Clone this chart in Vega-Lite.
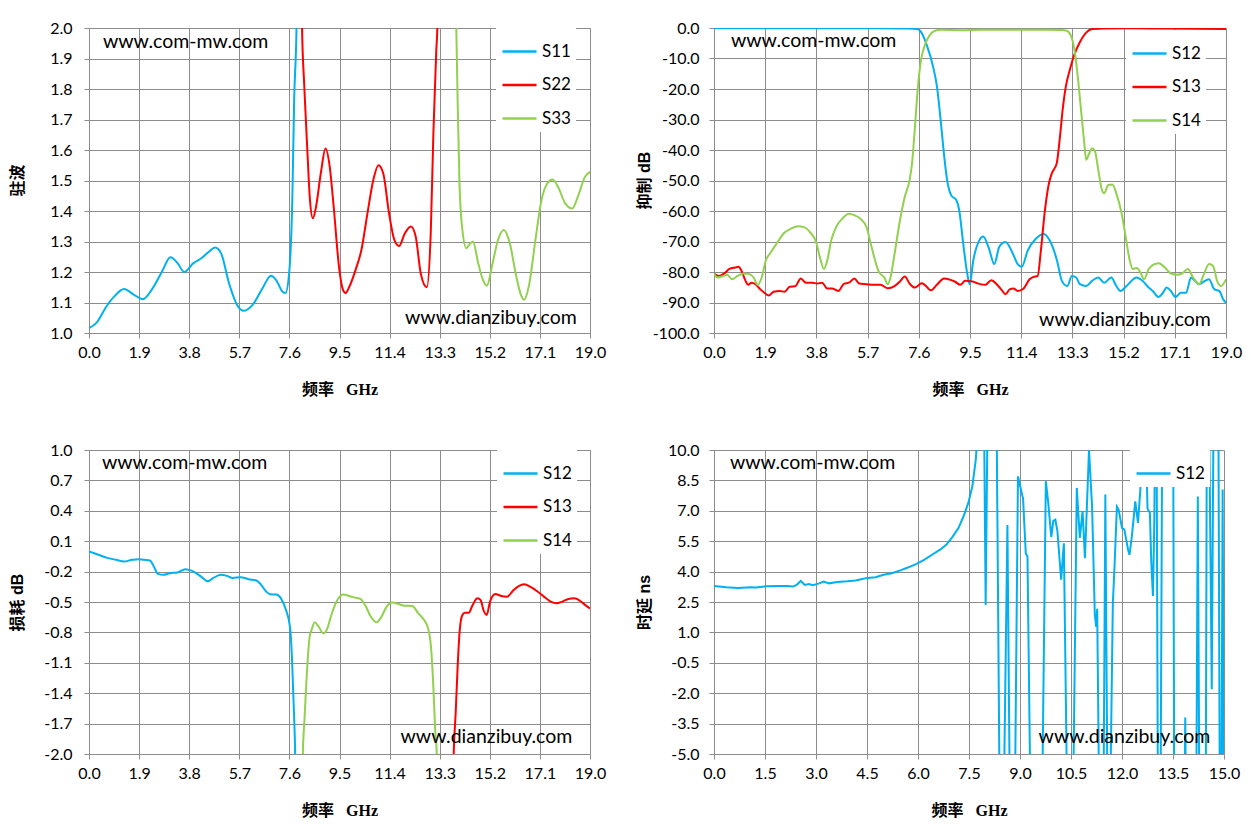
{
  "$schema": "https://vega.github.io/schema/vega-lite/v6.json",
  "background": "white",
  "padding": {"left": 9, "top": 20, "right": 10, "bottom": 10},
  "columns": 2,
  "bounds": "flush",
  "spacing": {"row": 117, "column": 124},
  "resolve": {"scale": {"x": "independent", "y": "independent", "color": "independent"}, "legend": {"color": "independent"}},
  "config": {
    "view": {"stroke": null},
    "axis": {
      "gridColor": "#8c8c8c", "gridOpacity": 1, "gridWidth": 1,
      "domainColor": "#8c8c8c", "tickColor": "#8c8c8c", "tickSize": 5, "tickCount": 20,
      "labelFont": "Lato", "labelFontSize": 16, "labelColor": "#000",
      "labelFlush": false, "labelOverlap": false,
      "titleFontSize": 16, "titleFontWeight": "bold", "titleColor": "#000"
    },
    "axisX": {"labelPadding": 6, "titlePadding": 21, "titleFont": "Liberation Serif, Noto Sans CJK SC"},
    "axisY": {"labelPadding": 12, "titleAngle": -90, "titleBaseline": "middle", "titleY": 152, "titleFont": "Liberation Sans, Noto Sans CJK SC"},
    "legend": {
      "orient": "none", "legendY": 0, "title": null, "fillColor": "white", "padding": 5,
      "symbolType": "stroke", "symbolSize": 1156, "symbolStrokeWidth": 2.5,
      "labelFont": "Lato", "labelFontSize": 17, "labelColor": "#000", "labelOffset": 4, "rowPadding": 6.5
    },
    "text": {"font": "Lato", "fontSize": 19.5, "color": "#000"}
  },
  "datasets": {
    "vswr": [
      {"s":"S11","f":0,"v":1.016},{"s":"S11","f":0.28,"v":1.033},{"s":"S11","f":0.66,"v":1.087},{"s":"S11","f":0.96,"v":1.12},{"s":"S11","f":1.33,"v":1.144},{"s":"S11","f":1.71,"v":1.125},{"s":"S11","f":2.04,"v":1.111},{"s":"S11","f":2.38,"v":1.142},{"s":"S11","f":2.76,"v":1.2},{"s":"S11","f":3.09,"v":1.248},{"s":"S11","f":3.36,"v":1.229},{"s":"S11","f":3.61,"v":1.2},{"s":"S11","f":3.96,"v":1.229},{"s":"S11","f":4.26,"v":1.245},{"s":"S11","f":4.56,"v":1.267},{"s":"S11","f":4.78,"v":1.28},{"s":"S11","f":5.01,"v":1.261},{"s":"S11","f":5.31,"v":1.163},{"s":"S11","f":5.61,"v":1.093},{"s":"S11","f":5.88,"v":1.073},{"s":"S11","f":6.21,"v":1.093},{"s":"S11","f":6.58,"v":1.147},{"s":"S11","f":6.9,"v":1.188},{"s":"S11","f":7.11,"v":1.172},{"s":"S11","f":7.33,"v":1.136},{"s":"S11","f":7.45,"v":1.131},{"s":"S11","f":7.59,"v":1.196},{"s":"S11","f":7.71,"v":1.436},{"s":"S11","f":7.78,"v":1.763},{"s":"S11","f":7.87,"v":2.0},{"s":"S11","f":7.92,"v":2.3},
      {"s":"S22","f":8.03,"v":2.3},{"s":"S22","f":8.08,"v":2.0},{"s":"S22","f":8.16,"v":1.817},{"s":"S22","f":8.28,"v":1.6},{"s":"S22","f":8.38,"v":1.436},{"s":"S22","f":8.49,"v":1.376},{"s":"S22","f":8.61,"v":1.414},{"s":"S22","f":8.79,"v":1.523},{"s":"S22","f":8.97,"v":1.605},{"s":"S22","f":9.13,"v":1.545},{"s":"S22","f":9.28,"v":1.414},{"s":"S22","f":9.48,"v":1.218},{"s":"S22","f":9.63,"v":1.142},{"s":"S22","f":9.73,"v":1.131},{"s":"S22","f":9.88,"v":1.153},{"s":"S22","f":10.11,"v":1.207},{"s":"S22","f":10.33,"v":1.272},{"s":"S22","f":10.56,"v":1.392},{"s":"S22","f":10.78,"v":1.501},{"s":"S22","f":10.98,"v":1.55},{"s":"S22","f":11.16,"v":1.523},{"s":"S22","f":11.38,"v":1.392},{"s":"S22","f":11.58,"v":1.305},{"s":"S22","f":11.76,"v":1.285},{"s":"S22","f":11.98,"v":1.327},{"s":"S22","f":12.21,"v":1.349},{"s":"S22","f":12.39,"v":1.316},{"s":"S22","f":12.58,"v":1.196},{"s":"S22","f":12.81,"v":1.15},{"s":"S22","f":12.96,"v":1.327},{"s":"S22","f":13.06,"v":1.654},{"s":"S22","f":13.17,"v":1.926},{"s":"S22","f":13.21,"v":2.0},{"s":"S22","f":13.25,"v":2.3},
      {"s":"S33","f":13.88,"v":2.3},{"s":"S33","f":13.93,"v":2.0},{"s":"S33","f":13.98,"v":1.763},{"s":"S33","f":14.05,"v":1.49},{"s":"S33","f":14.16,"v":1.338},{"s":"S33","f":14.31,"v":1.278},{"s":"S33","f":14.46,"v":1.294},{"s":"S33","f":14.56,"v":1.3},{"s":"S33","f":14.76,"v":1.229},{"s":"S33","f":14.94,"v":1.174},{"s":"S33","f":15.09,"v":1.155},{"s":"S33","f":15.28,"v":1.218},{"s":"S33","f":15.51,"v":1.305},{"s":"S33","f":15.73,"v":1.338},{"s":"S33","f":15.96,"v":1.294},{"s":"S33","f":16.18,"v":1.196},{"s":"S33","f":16.38,"v":1.125},{"s":"S33","f":16.5,"v":1.109},{"s":"S33","f":16.68,"v":1.153},{"s":"S33","f":16.93,"v":1.305},{"s":"S33","f":17.16,"v":1.436},{"s":"S33","f":17.38,"v":1.49},{"s":"S33","f":17.58,"v":1.503},{"s":"S33","f":17.79,"v":1.479},{"s":"S33","f":18.06,"v":1.425},{"s":"S33","f":18.33,"v":1.408},{"s":"S33","f":18.54,"v":1.447},{"s":"S33","f":18.81,"v":1.512},{"s":"S33","f":19,"v":1.528}
    ],
    "reject": [
      {"s":"S12","f":0,"v":-0.05},{"s":"S12","f":2,"v":-0.05},{"s":"S12","f":4,"v":-0.08},{"s":"S12","f":6,"v":-0.1},{"s":"S12","f":7.2,"v":-0.15},{"s":"S12","f":7.53,"v":-0.3},{"s":"S12","f":7.67,"v":-1.1},{"s":"S12","f":7.9,"v":-5.7},{"s":"S12","f":8.12,"v":-12.3},{"s":"S12","f":8.27,"v":-19},{"s":"S12","f":8.42,"v":-31},{"s":"S12","f":8.53,"v":-41},{"s":"S12","f":8.65,"v":-49.8},{"s":"S12","f":8.8,"v":-54.8},{"s":"S12","f":8.99,"v":-56.4},{"s":"S12","f":9.1,"v":-59.8},{"s":"S12","f":9.25,"v":-70.8},{"s":"S12","f":9.4,"v":-80.7},{"s":"S12","f":9.49,"v":-84},{"s":"S12","f":9.62,"v":-76.3},{"s":"S12","f":9.84,"v":-69.7},{"s":"S12","f":9.99,"v":-68.4},{"s":"S12","f":10.19,"v":-71.9},{"s":"S12","f":10.4,"v":-77.4},{"s":"S12","f":10.59,"v":-71.7},{"s":"S12","f":10.82,"v":-70.2},{"s":"S12","f":11.04,"v":-73},{"s":"S12","f":11.27,"v":-77.4},{"s":"S12","f":11.42,"v":-78.3},{"s":"S12","f":11.64,"v":-73},{"s":"S12","f":11.94,"v":-69.1},{"s":"S12","f":12.24,"v":-67.5},{"s":"S12","f":12.46,"v":-69.7},{"s":"S12","f":12.73,"v":-76.3},{"s":"S12","f":12.91,"v":-82.9},{"s":"S12","f":13.11,"v":-84.6},{"s":"S12","f":13.28,"v":-81.3},{"s":"S12","f":13.44,"v":-81.8},{"s":"S12","f":13.58,"v":-84},{"s":"S12","f":13.81,"v":-84.6},{"s":"S12","f":14.03,"v":-82.9},{"s":"S12","f":14.26,"v":-81.8},{"s":"S12","f":14.48,"v":-83.5},{"s":"S12","f":14.74,"v":-81.8},{"s":"S12","f":14.93,"v":-84.6},{"s":"S12","f":15.08,"v":-86.2},{"s":"S12","f":15.31,"v":-84.6},{"s":"S12","f":15.68,"v":-81.8},{"s":"S12","f":15.9,"v":-82.9},{"s":"S12","f":16.13,"v":-85.1},{"s":"S12","f":16.28,"v":-86.2},{"s":"S12","f":16.5,"v":-88.2},{"s":"S12","f":16.66,"v":-86.8},{"s":"S12","f":16.8,"v":-85.1},{"s":"S12","f":16.95,"v":-86.2},{"s":"S12","f":17.13,"v":-88.2},{"s":"S12","f":17.32,"v":-86.8},{"s":"S12","f":17.52,"v":-86.8},{"s":"S12","f":17.7,"v":-81.8},{"s":"S12","f":17.85,"v":-82.9},{"s":"S12","f":18,"v":-84},{"s":"S12","f":18.22,"v":-82.9},{"s":"S12","f":18.37,"v":-82.4},{"s":"S12","f":18.57,"v":-85.7},{"s":"S12","f":18.75,"v":-86.2},{"s":"S12","f":18.9,"v":-89},{"s":"S12","f":19,"v":-90.1},
      {"s":"S13","f":0,"v":-80.5},{"s":"S13","f":0.19,"v":-81.3},{"s":"S13","f":0.42,"v":-80.2},{"s":"S13","f":0.57,"v":-79},{"s":"S13","f":0.79,"v":-78.5},{"s":"S13","f":0.91,"v":-78.3},{"s":"S13","f":1.02,"v":-79.6},{"s":"S13","f":1.17,"v":-82.9},{"s":"S13","f":1.27,"v":-84.2},{"s":"S13","f":1.39,"v":-83.5},{"s":"S13","f":1.54,"v":-84},{"s":"S13","f":1.72,"v":-85.7},{"s":"S13","f":1.87,"v":-86.8},{"s":"S13","f":2.03,"v":-87.7},{"s":"S13","f":2.21,"v":-86.5},{"s":"S13","f":2.44,"v":-86.2},{"s":"S13","f":2.62,"v":-86.5},{"s":"S13","f":2.81,"v":-84.8},{"s":"S13","f":3.01,"v":-84.7},{"s":"S13","f":3.22,"v":-82.1},{"s":"S13","f":3.41,"v":-83.5},{"s":"S13","f":3.64,"v":-83.5},{"s":"S13","f":3.83,"v":-83.8},{"s":"S13","f":4.01,"v":-83.5},{"s":"S13","f":4.2,"v":-85.4},{"s":"S13","f":4.38,"v":-85.4},{"s":"S13","f":4.61,"v":-86.2},{"s":"S13","f":4.83,"v":-83.8},{"s":"S13","f":5.01,"v":-83.5},{"s":"S13","f":5.21,"v":-82.1},{"s":"S13","f":5.39,"v":-83.8},{"s":"S13","f":5.66,"v":-84},{"s":"S13","f":5.91,"v":-84.2},{"s":"S13","f":6.18,"v":-84.2},{"s":"S13","f":6.45,"v":-85.3},{"s":"S13","f":6.7,"v":-84.6},{"s":"S13","f":6.9,"v":-83.1},{"s":"S13","f":7.08,"v":-81.5},{"s":"S13","f":7.26,"v":-83.8},{"s":"S13","f":7.45,"v":-85.1},{"s":"S13","f":7.71,"v":-83.7},{"s":"S13","f":7.82,"v":-84.2},{"s":"S13","f":8.05,"v":-86},{"s":"S13","f":8.27,"v":-84.2},{"s":"S13","f":8.54,"v":-82.1},{"s":"S13","f":8.75,"v":-82.5},{"s":"S13","f":8.95,"v":-83.2},{"s":"S13","f":9.14,"v":-84.2},{"s":"S13","f":9.32,"v":-82.9},{"s":"S13","f":9.59,"v":-83.1},{"s":"S13","f":9.81,"v":-83.8},{"s":"S13","f":10.07,"v":-84.2},{"s":"S13","f":10.29,"v":-82.7},{"s":"S13","f":10.49,"v":-84},{"s":"S13","f":10.7,"v":-86.2},{"s":"S13","f":10.82,"v":-87.3},{"s":"S13","f":10.97,"v":-85.7},{"s":"S13","f":11.12,"v":-85.4},{"s":"S13","f":11.27,"v":-86.2},{"s":"S13","f":11.49,"v":-85.4},{"s":"S13","f":11.71,"v":-82.4},{"s":"S13","f":11.86,"v":-81.6},{"s":"S13","f":12.01,"v":-81.3},{"s":"S13","f":12.13,"v":-73},{"s":"S13","f":12.28,"v":-59.8},{"s":"S13","f":12.43,"v":-50.9},{"s":"S13","f":12.54,"v":-47.6},{"s":"S13","f":12.72,"v":-44.3},{"s":"S13","f":12.84,"v":-35.5},{"s":"S13","f":12.94,"v":-26.7},{"s":"S13","f":13.06,"v":-19},{"s":"S13","f":13.21,"v":-13.5},{"s":"S13","f":13.36,"v":-9},{"s":"S13","f":13.58,"v":-4.6},{"s":"S13","f":13.81,"v":-1.5},{"s":"S13","f":14.03,"v":-0.3},{"s":"S13","f":14.41,"v":-0.2},{"s":"S13","f":15.31,"v":-0.1},{"s":"S13","f":16.65,"v":-0.2},{"s":"S13","f":19,"v":-0.3},
      {"s":"S14","f":0,"v":-80.5},{"s":"S14","f":0.12,"v":-81.8},{"s":"S14","f":0.31,"v":-81.4},{"s":"S14","f":0.49,"v":-80.9},{"s":"S14","f":0.67,"v":-82.4},{"s":"S14","f":0.87,"v":-81.3},{"s":"S14","f":1.09,"v":-80.5},{"s":"S14","f":1.32,"v":-80.7},{"s":"S14","f":1.47,"v":-81.8},{"s":"S14","f":1.62,"v":-84.2},{"s":"S14","f":1.77,"v":-81.8},{"s":"S14","f":1.92,"v":-76.3},{"s":"S14","f":2.11,"v":-73.5},{"s":"S14","f":2.36,"v":-70.2},{"s":"S14","f":2.59,"v":-67.3},{"s":"S14","f":2.86,"v":-65.8},{"s":"S14","f":3.11,"v":-65},{"s":"S14","f":3.34,"v":-65.3},{"s":"S14","f":3.56,"v":-66.9},{"s":"S14","f":3.79,"v":-70.2},{"s":"S14","f":3.93,"v":-75.2},{"s":"S14","f":4.08,"v":-79},{"s":"S14","f":4.2,"v":-76.3},{"s":"S14","f":4.35,"v":-69.7},{"s":"S14","f":4.53,"v":-65.3},{"s":"S14","f":4.76,"v":-62.5},{"s":"S14","f":5.01,"v":-60.9},{"s":"S14","f":5.21,"v":-61.4},{"s":"S14","f":5.43,"v":-62.5},{"s":"S14","f":5.66,"v":-65.3},{"s":"S14","f":5.85,"v":-71.9},{"s":"S14","f":6.1,"v":-79.6},{"s":"S14","f":6.33,"v":-82},{"s":"S14","f":6.45,"v":-84},{"s":"S14","f":6.55,"v":-81.8},{"s":"S14","f":6.7,"v":-74.1},{"s":"S14","f":6.9,"v":-63.1},{"s":"S14","f":7.08,"v":-55.3},{"s":"S14","f":7.26,"v":-49.8},{"s":"S14","f":7.35,"v":-44.3},{"s":"S14","f":7.45,"v":-33.3},{"s":"S14","f":7.56,"v":-20.1},{"s":"S14","f":7.67,"v":-11.2},{"s":"S14","f":7.82,"v":-5.7},{"s":"S14","f":8,"v":-2.4},{"s":"S14","f":8.2,"v":-0.9},{"s":"S14","f":8.42,"v":-0.6},{"s":"S14","f":9.17,"v":-0.7},{"s":"S14","f":9.92,"v":-0.55},{"s":"S14","f":10.67,"v":-0.55},{"s":"S14","f":11.42,"v":-0.55},{"s":"S14","f":12.16,"v":-0.55},{"s":"S14","f":12.91,"v":-0.65},{"s":"S14","f":13.09,"v":-0.9},{"s":"S14","f":13.24,"v":-2.4},{"s":"S14","f":13.39,"v":-7.9},{"s":"S14","f":13.51,"v":-16.8},{"s":"S14","f":13.63,"v":-27.8},{"s":"S14","f":13.74,"v":-37.7},{"s":"S14","f":13.81,"v":-43.2},{"s":"S14","f":13.93,"v":-41},{"s":"S14","f":14.03,"v":-39.4},{"s":"S14","f":14.14,"v":-40.5},{"s":"S14","f":14.26,"v":-46.5},{"s":"S14","f":14.38,"v":-52.6},{"s":"S14","f":14.48,"v":-54.2},{"s":"S14","f":14.63,"v":-51.5},{"s":"S14","f":14.78,"v":-51.3},{"s":"S14","f":14.93,"v":-54.2},{"s":"S14","f":15.13,"v":-60.9},{"s":"S14","f":15.28,"v":-68.6},{"s":"S14","f":15.43,"v":-76.3},{"s":"S14","f":15.54,"v":-79},{"s":"S14","f":15.68,"v":-78.7},{"s":"S14","f":15.83,"v":-80.2},{"s":"S14","f":15.96,"v":-82.4},{"s":"S14","f":16.13,"v":-79},{"s":"S14","f":16.36,"v":-77.4},{"s":"S14","f":16.51,"v":-77.1},{"s":"S14","f":16.73,"v":-78.5},{"s":"S14","f":16.96,"v":-80.5},{"s":"S14","f":17.18,"v":-80.9},{"s":"S14","f":17.37,"v":-80.5},{"s":"S14","f":17.58,"v":-79},{"s":"S14","f":17.78,"v":-81.8},{"s":"S14","f":18,"v":-84},{"s":"S14","f":18.18,"v":-80.7},{"s":"S14","f":18.37,"v":-77.4},{"s":"S14","f":18.52,"v":-78},{"s":"S14","f":18.67,"v":-82.9},{"s":"S14","f":18.82,"v":-84.6},{"s":"S14","f":19,"v":-82.4}
    ],
    "loss": [
      {"s":"S12","f":0,"v":0.0},{"s":"S12","f":0.36,"v":-0.034},{"s":"S12","f":0.73,"v":-0.067},{"s":"S12","f":1.03,"v":-0.084},{"s":"S12","f":1.33,"v":-0.1},{"s":"S12","f":1.63,"v":-0.084},{"s":"S12","f":1.86,"v":-0.077},{"s":"S12","f":2.08,"v":-0.084},{"s":"S12","f":2.31,"v":-0.09},{"s":"S12","f":2.46,"v":-0.15},{"s":"S12","f":2.61,"v":-0.222},{"s":"S12","f":2.83,"v":-0.232},{"s":"S12","f":3.05,"v":-0.216},{"s":"S12","f":3.35,"v":-0.209},{"s":"S12","f":3.65,"v":-0.176},{"s":"S12","f":3.8,"v":-0.183},{"s":"S12","f":4.03,"v":-0.209},{"s":"S12","f":4.25,"v":-0.249},{"s":"S12","f":4.51,"v":-0.295},{"s":"S12","f":4.7,"v":-0.265},{"s":"S12","f":5,"v":-0.232},{"s":"S12","f":5.23,"v":-0.242},{"s":"S12","f":5.45,"v":-0.262},{"s":"S12","f":5.75,"v":-0.255},{"s":"S12","f":6.05,"v":-0.275},{"s":"S12","f":6.35,"v":-0.288},{"s":"S12","f":6.53,"v":-0.331},{"s":"S12","f":6.72,"v":-0.397},{"s":"S12","f":6.87,"v":-0.424},{"s":"S12","f":7.1,"v":-0.427},{"s":"S12","f":7.28,"v":-0.464},{"s":"S12","f":7.47,"v":-0.579},{"s":"S12","f":7.62,"v":-0.744},{"s":"S12","f":7.7,"v":-1.07},{"s":"S12","f":7.76,"v":-1.5},{"s":"S12","f":7.82,"v":-2.0},{"s":"S12","f":7.84,"v":-2.3},
      {"s":"S14","f":8.09,"v":-2.3},{"s":"S14","f":8.11,"v":-2.0},{"s":"S14","f":8.17,"v":-1.67},{"s":"S14","f":8.26,"v":-1.21},{"s":"S14","f":8.37,"v":-0.84},{"s":"S14","f":8.44,"v":-0.777},{"s":"S14","f":8.56,"v":-0.7},{"s":"S14","f":8.71,"v":-0.744},{"s":"S14","f":8.89,"v":-0.81},{"s":"S14","f":9.04,"v":-0.76},{"s":"S14","f":9.19,"v":-0.628},{"s":"S14","f":9.42,"v":-0.48},{"s":"S14","f":9.64,"v":-0.427},{"s":"S14","f":9.87,"v":-0.44},{"s":"S14","f":10.09,"v":-0.457},{"s":"S14","f":10.32,"v":-0.473},{"s":"S14","f":10.47,"v":-0.53},{"s":"S14","f":10.69,"v":-0.645},{"s":"S14","f":10.91,"v":-0.7},{"s":"S14","f":11.06,"v":-0.66},{"s":"S14","f":11.29,"v":-0.546},{"s":"S14","f":11.51,"v":-0.506},{"s":"S14","f":11.74,"v":-0.52},{"s":"S14","f":11.96,"v":-0.536},{"s":"S14","f":12.26,"v":-0.54},{"s":"S14","f":12.49,"v":-0.612},{"s":"S14","f":12.71,"v":-0.678},{"s":"S14","f":12.86,"v":-0.761},{"s":"S14","f":12.97,"v":-0.943},{"s":"S14","f":13.06,"v":-1.34},{"s":"S14","f":13.13,"v":-1.77},{"s":"S14","f":13.19,"v":-2.0},{"s":"S14","f":13.22,"v":-2.3},
      {"s":"S13","f":13.8,"v":-2.3},{"s":"S13","f":13.83,"v":-2.0},{"s":"S13","f":13.91,"v":-1.57},{"s":"S13","f":13.98,"v":-1.14},{"s":"S13","f":14.06,"v":-0.777},{"s":"S13","f":14.16,"v":-0.628},{"s":"S13","f":14.25,"v":-0.606},{"s":"S13","f":14.4,"v":-0.606},{"s":"S13","f":14.55,"v":-0.53},{"s":"S13","f":14.73,"v":-0.464},{"s":"S13","f":14.85,"v":-0.48},{"s":"S13","f":14.96,"v":-0.579},{"s":"S13","f":15.08,"v":-0.628},{"s":"S13","f":15.21,"v":-0.496},{"s":"S13","f":15.41,"v":-0.421},{"s":"S13","f":15.63,"v":-0.44},{"s":"S13","f":15.86,"v":-0.447},{"s":"S13","f":16.08,"v":-0.388},{"s":"S13","f":16.31,"v":-0.341},{"s":"S13","f":16.5,"v":-0.325},{"s":"S13","f":16.76,"v":-0.354},{"s":"S13","f":17.01,"v":-0.397},{"s":"S13","f":17.25,"v":-0.447},{"s":"S13","f":17.51,"v":-0.496},{"s":"S13","f":17.73,"v":-0.513},{"s":"S13","f":17.95,"v":-0.496},{"s":"S13","f":18.18,"v":-0.47},{"s":"S13","f":18.4,"v":-0.464},{"s":"S13","f":18.63,"v":-0.49},{"s":"S13","f":18.85,"v":-0.536},{"s":"S13","f":19,"v":-0.563}
    ],
    "delay": [
      {"s":"S12","f":0,"v":3.29},{"s":"S12","f":0.36,"v":3.23},{"s":"S12","f":0.71,"v":3.19},{"s":"S12","f":1.07,"v":3.23},{"s":"S12","f":1.25,"v":3.21},{"s":"S12","f":1.54,"v":3.28},{"s":"S12","f":1.9,"v":3.29},{"s":"S12","f":2.14,"v":3.29},{"s":"S12","f":2.32,"v":3.26},{"s":"S12","f":2.43,"v":3.34},{"s":"S12","f":2.55,"v":3.54},{"s":"S12","f":2.67,"v":3.34},{"s":"S12","f":2.79,"v":3.39},{"s":"S12","f":2.91,"v":3.33},{"s":"S12","f":3.09,"v":3.42},{"s":"S12","f":3.23,"v":3.51},{"s":"S12","f":3.38,"v":3.42},{"s":"S12","f":3.62,"v":3.49},{"s":"S12","f":3.92,"v":3.52},{"s":"S12","f":4.16,"v":3.56},{"s":"S12","f":4.33,"v":3.62},{"s":"S12","f":4.51,"v":3.69},{"s":"S12","f":4.75,"v":3.72},{"s":"S12","f":4.99,"v":3.84},{"s":"S12","f":5.23,"v":3.92},{"s":"S12","f":5.46,"v":4.05},{"s":"S12","f":5.7,"v":4.2},{"s":"S12","f":5.94,"v":4.37},{"s":"S12","f":6.18,"v":4.58},{"s":"S12","f":6.41,"v":4.83},{"s":"S12","f":6.65,"v":5.08},{"s":"S12","f":6.83,"v":5.32},{"s":"S12","f":7.01,"v":5.7},{"s":"S12","f":7.19,"v":6.15},{"s":"S12","f":7.34,"v":6.73},{"s":"S12","f":7.48,"v":7.39},{"s":"S12","f":7.6,"v":8.22},{"s":"S12","f":7.7,"v":9.54},{"s":"S12","f":7.76,"v":11},{"s":"S12","f":7.82,"v":14},
      {"s":"S12","f":7.93,"v":14},{"s":"S12","f":7.99,"v":2.35},{"s":"S12","f":8.06,"v":14},{"s":"S12","f":8.3,"v":14},{"s":"S12","f":8.41,"v":-9},{"s":"S12","f":8.51,"v":-9},{"s":"S12","f":8.63,"v":6.3},{"s":"S12","f":8.71,"v":-9},{"s":"S12","f":8.84,"v":-9},{"s":"S12","f":8.94,"v":8.7},{"s":"S12","f":9.02,"v":8.1},{"s":"S12","f":9.09,"v":7.6},{"s":"S12","f":9.17,"v":4.9},{"s":"S12","f":9.22,"v":4.75},{"s":"S12","f":9.32,"v":-9},{"s":"S12","f":9.64,"v":-9},{"s":"S12","f":9.76,"v":8.46},{"s":"S12","f":9.83,"v":7.4},{"s":"S12","f":9.92,"v":5.7},{"s":"S12","f":9.98,"v":6.5},{"s":"S12","f":10.04,"v":6.56},{"s":"S12","f":10.1,"v":6.0},{"s":"S12","f":10.21,"v":3.6},{"s":"S12","f":10.29,"v":5.4},{"s":"S12","f":10.4,"v":-9},{"s":"S12","f":10.55,"v":-9},{"s":"S12","f":10.67,"v":8.13},{"s":"S12","f":10.76,"v":5.66},{"s":"S12","f":10.84,"v":6.98},{"s":"S12","f":10.91,"v":4.66},{"s":"S12","f":11.03,"v":10.0},{"s":"S12","f":11.12,"v":7.2},{"s":"S12","f":11.2,"v":1.9},{"s":"S12","f":11.24,"v":1.27},{"s":"S12","f":11.27,"v":2.17},{"s":"S12","f":11.34,"v":-9},{"s":"S12","f":11.45,"v":-9},{"s":"S12","f":11.51,"v":7.8},{"s":"S12","f":11.58,"v":-9},{"s":"S12","f":11.64,"v":-9},{"s":"S12","f":11.73,"v":2.4},{"s":"S12","f":11.78,"v":4.25},{"s":"S12","f":11.85,"v":7.2},{"s":"S12","f":11.9,"v":7.06},{"s":"S12","f":12.0,"v":6.15},{"s":"S12","f":12.07,"v":6.07},{"s":"S12","f":12.18,"v":5.07},{"s":"S12","f":12.22,"v":4.83},{"s":"S12","f":12.29,"v":5.74},{"s":"S12","f":12.39,"v":7.47},{"s":"S12","f":12.47,"v":6.4},{"s":"S12","f":12.54,"v":8.05},{"s":"S12","f":12.58,"v":14},{"s":"S12","f":12.66,"v":14},{"s":"S12","f":12.75,"v":7.1},{"s":"S12","f":12.82,"v":6.9},{"s":"S12","f":12.86,"v":4.5},{"s":"S12","f":12.91,"v":2.8},{"s":"S12","f":12.95,"v":6.5},{"s":"S12","f":12.99,"v":14},{"s":"S12","f":13.01,"v":14},{"s":"S12","f":13.06,"v":-9},{"s":"S12","f":13.13,"v":-9},{"s":"S12","f":13.19,"v":14},{"s":"S12","f":13.5,"v":14},{"s":"S12","f":13.54,"v":-9},{"s":"S12","f":13.83,"v":-9},{"s":"S12","f":13.86,"v":-3.2},{"s":"S12","f":13.89,"v":-9},{"s":"S12","f":14.18,"v":-9},{"s":"S12","f":14.23,"v":7.7},{"s":"S12","f":14.28,"v":-9},{"s":"S12","f":14.46,"v":-9},{"s":"S12","f":14.5,"v":14},{"s":"S12","f":14.55,"v":14},{"s":"S12","f":14.64,"v":-1.8},{"s":"S12","f":14.7,"v":14},{"s":"S12","f":14.83,"v":14},{"s":"S12","f":14.88,"v":-9},{"s":"S12","f":14.92,"v":-9},{"s":"S12","f":14.96,"v":8.05},{"s":"S12","f":15.0,"v":-9}
    ]
  },
  "concat": [
    {
      "width": 501, "height": 305,
      "data": {"name": "vswr"},
      "layer": [
        {
          "mark": {"type": "line", "clip": true, "strokeWidth": 2, "interpolate": "monotone"},
          "encoding": {
            "x": {"field": "f", "type": "quantitative", "scale": {"domain": [0, 19], "nice": false, "zero": false},
                  "axis": {"values": [0, 1.9, 3.8, 5.7, 7.6, 9.5, 11.4, 13.3, 15.2, 17.1, 19], "format": ".1f", "title": "频率\u00a0\u00a0\u00a0GHz"}},
            "y": {"field": "v", "type": "quantitative", "scale": {"domain": [1, 2], "nice": false, "zero": false},
                  "axis": {"values": [1, 1.1, 1.2, 1.3, 1.4, 1.5, 1.6, 1.7, 1.8, 1.9, 2], "format": ".1f", "title": "驻波", "titleX": -72}},
            "color": {"field": "s", "type": "nominal", "scale": {"domain": ["S11", "S22", "S33"], "range": ["#00B0F0", "#FF0000", "#92D050"]},
                      "legend": {"legendX": 407}}
          }
        },
        {
          "data": {"values": [{"t": "www.com-mw.com"}]},
          "mark": {"type": "text", "align": "left", "baseline": "middle"},
          "encoding": {"x": {"datum": 0.53}, "y": {"datum": 1.954}, "text": {"field": "t"}}
        },
        {
          "data": {"values": [{"t": "www.dianzibuy.com"}]},
          "mark": {"type": "text", "align": "right", "baseline": "middle"},
          "encoding": {"x": {"datum": 18.5}, "y": {"datum": 1.049}, "text": {"field": "t"}}
        }
      ]
    },
    {
      "width": 512, "height": 305,
      "data": {"name": "reject"},
      "layer": [
        {
          "mark": {"type": "line", "clip": true, "strokeWidth": 2, "interpolate": "monotone"},
          "encoding": {
            "x": {"field": "f", "type": "quantitative", "scale": {"domain": [0, 19], "nice": false, "zero": false},
                  "axis": {"values": [0, 1.9, 3.8, 5.7, 7.6, 9.5, 11.4, 13.3, 15.2, 17.1, 19], "format": ".1f", "title": "频率\u00a0\u00a0\u00a0GHz"}},
            "y": {"field": "v", "type": "quantitative", "scale": {"domain": [-100, 0], "nice": false, "zero": false},
                  "axis": {"values": [0, -10, -20, -30, -40, -50, -60, -70, -80, -90, -100], "labelExpr": "replace(format(datum.value, '.1f'), '−', '-')", "title": "抑制 dB", "titleX": -70, "labelPadding": 10}},
            "color": {"field": "s", "type": "nominal", "scale": {"domain": ["S12", "S13", "S14"], "range": ["#00B0F0", "#FF0000", "#92D050"]},
                      "legend": {"legendX": 412, "legendY": 2}}
          }
        },
        {
          "data": {"values": [{"t": "www.com-mw.com"}]},
          "mark": {"type": "text", "align": "left", "baseline": "middle"},
          "encoding": {"x": {"datum": 0.63}, "y": {"datum": -4.3}, "text": {"field": "t"}}
        },
        {
          "data": {"values": [{"t": "www.dianzibuy.com"}]},
          "mark": {"type": "text", "align": "right", "baseline": "middle"},
          "encoding": {"x": {"datum": 18.44}, "y": {"datum": -95.7}, "text": {"field": "t"}}
        }
      ]
    },
    {
      "width": 501, "height": 304,
      "data": {"name": "loss"},
      "layer": [
        {
          "mark": {"type": "line", "clip": true, "strokeWidth": 2, "interpolate": "monotone"},
          "encoding": {
            "x": {"field": "f", "type": "quantitative", "scale": {"domain": [0, 19], "nice": false, "zero": false},
                  "axis": {"values": [0, 1.9, 3.8, 5.7, 7.6, 9.5, 11.4, 13.3, 15.2, 17.1, 19], "format": ".1f", "title": "频率\u00a0\u00a0\u00a0GHz"}},
            "y": {"field": "v", "type": "quantitative", "scale": {"domain": [-2, 1], "nice": false, "zero": false},
                  "axis": {"values": [1, 0.7, 0.4, 0.1, -0.2, -0.5, -0.8, -1.1, -1.4, -1.7, -2], "labelExpr": "replace(format(datum.value, '.1f'), '−', '-')", "title": "损耗 dB", "titleX": -72}},
            "color": {"field": "s", "type": "nominal", "scale": {"domain": ["S12", "S13", "S14"], "range": ["#00B0F0", "#FF0000", "#92D050"]},
                      "legend": {"legendX": 408}}
          }
        },
        {
          "data": {"values": [{"t": "www.com-mw.com"}]},
          "mark": {"type": "text", "align": "left", "baseline": "middle"},
          "encoding": {"x": {"datum": 0.49}, "y": {"datum": 0.87}, "text": {"field": "t"}}
        },
        {
          "data": {"values": [{"t": "www.dianzibuy.com"}]},
          "mark": {"type": "text", "align": "right", "baseline": "middle"},
          "encoding": {"x": {"datum": 18.33}, "y": {"datum": -1.83}, "text": {"field": "t"}}
        }
      ]
    },
    {
      "width": 510, "height": 304,
      "data": {"name": "delay"},
      "layer": [
        {
          "mark": {"type": "line", "clip": true, "strokeWidth": 2},
          "encoding": {
            "x": {"field": "f", "type": "quantitative", "scale": {"domain": [0, 15], "nice": false, "zero": false},
                  "axis": {"values": [0, 1.5, 3, 4.5, 6, 7.5, 9, 10.5, 12, 13.5, 15], "format": ".1f", "title": "频率\u00a0\u00a0\u00a0GHz"}},
            "y": {"field": "v", "type": "quantitative", "scale": {"domain": [-5, 10], "nice": false, "zero": false},
                  "axis": {"values": [10, 8.5, 7, 5.5, 4, 2.5, 1, -0.5, -2, -3.5, -5], "labelExpr": "replace(format(datum.value, '.1f'), '−', '-')", "title": "时延 ns", "titleX": -70, "labelPadding": 10}},
            "color": {"field": "s", "type": "nominal", "scale": {"domain": ["S12"], "range": ["#00B0F0"]},
                      "legend": {"legendX": 416, "legendY": 0}}
          }
        },
        {
          "data": {"values": [{"t": "www.com-mw.com"}]},
          "mark": {"type": "text", "align": "left", "baseline": "middle"},
          "encoding": {"x": {"datum": 0.47}, "y": {"datum": 9.36}, "text": {"field": "t"}}
        },
        {
          "data": {"values": [{"t": "www.dianzibuy.com"}]},
          "mark": {"type": "text", "align": "right", "baseline": "middle"},
          "encoding": {"x": {"datum": 14.6}, "y": {"datum": -4.16}, "text": {"field": "t"}}
        }
      ]
    }
  ]
}
